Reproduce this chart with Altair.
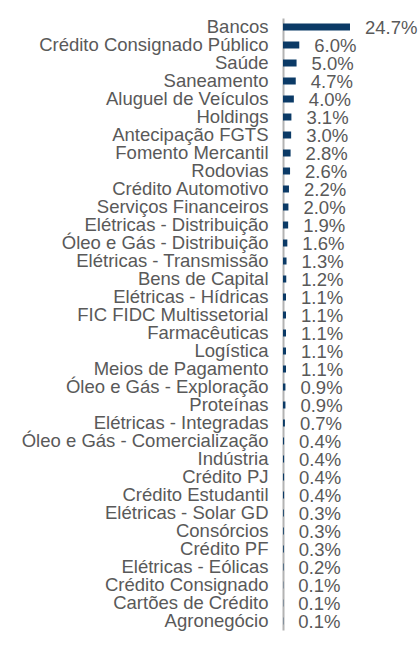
import altair as alt
import pandas as pd

categories = [
    "Bancos", "Crédito Consignado Público", "Saúde", "Saneamento",
    "Aluguel de Veículos", "Holdings", "Antecipação FGTS", "Fomento Mercantil",
    "Rodovias", "Crédito Automotivo", "Serviços Financeiros",
    "Elétricas - Distribuição", "Óleo e Gás - Distribuição",
    "Elétricas - Transmissão", "Bens de Capital", "Elétricas - Hídricas",
    "FIC FIDC Multissetorial", "Farmacêuticas", "Logística",
    "Meios de Pagamento", "Óleo e Gás - Exploração", "Proteínas",
    "Elétricas - Integradas", "Óleo e Gás - Comercialização", "Indústria",
    "Crédito PJ", "Crédito Estudantil", "Elétricas - Solar GD", "Consórcios",
    "Crédito PF", "Elétricas - Eólicas", "Crédito Consignado\u00a0",
    "Cartões de Crédito", "Agronegócio",
]
values = [
    24.7, 6.0, 5.0, 4.7, 4.0, 3.1, 3.0, 2.8, 2.6, 2.2, 2.0, 1.9, 1.6, 1.3,
    1.2, 1.1, 1.1, 1.1, 1.1, 1.1, 0.9, 0.9, 0.7, 0.4, 0.4, 0.4, 0.4, 0.3,
    0.3, 0.3, 0.2, 0.1, 0.1, 0.1,
]

df = pd.DataFrame({"setor": categories, "valor": values})

FONT = "Arial, Liberation Sans, sans-serif"
GRAY = "#595959"
FS = 18.5

y = alt.Y(
    "setor:N",
    sort=categories,
    title=None,
    scale=alt.Scale(paddingInner=0, paddingOuter=0),
    axis=alt.Axis(
        ticks=False,
        labelPadding=15,
        labelLimit=0,
        labelFont=FONT,
        labelFontSize=FS,
        labelColor=GRAY,
        domainColor="#b3b3b3",
        domainWidth=2,
    ),
)
x = alt.X(
    "valor:Q",
    scale=alt.Scale(domain=[0, 24.7], nice=False),
    axis=None,
)

bars = alt.Chart(df).mark_bar(color="#0b3a66", size=7).encode(y=y, x=x)

labels = (
    alt.Chart(df)
    .transform_calculate(rotulo="format(datum.valor, '.1f') + '%'")
    .mark_text(
        align="left",
        baseline="middle",
        dx=15,
        dy=1,
        font=FONT,
        fontSize=FS,
        color=GRAY,
    )
    .encode(y=y, x=x, text="rotulo:N")
)

chart = (
    alt.layer(bars, labels)
    .properties(
        width=67,
        height=612,
        autosize=alt.AutoSizeParams(type="none"),
        padding={"left": 283, "top": 18, "right": 70, "bottom": 27},
        background="white",
    )
    .configure_view(stroke=None)
)

chart.save("out.html", embed_options={"renderer": "svg", "actions": False})
